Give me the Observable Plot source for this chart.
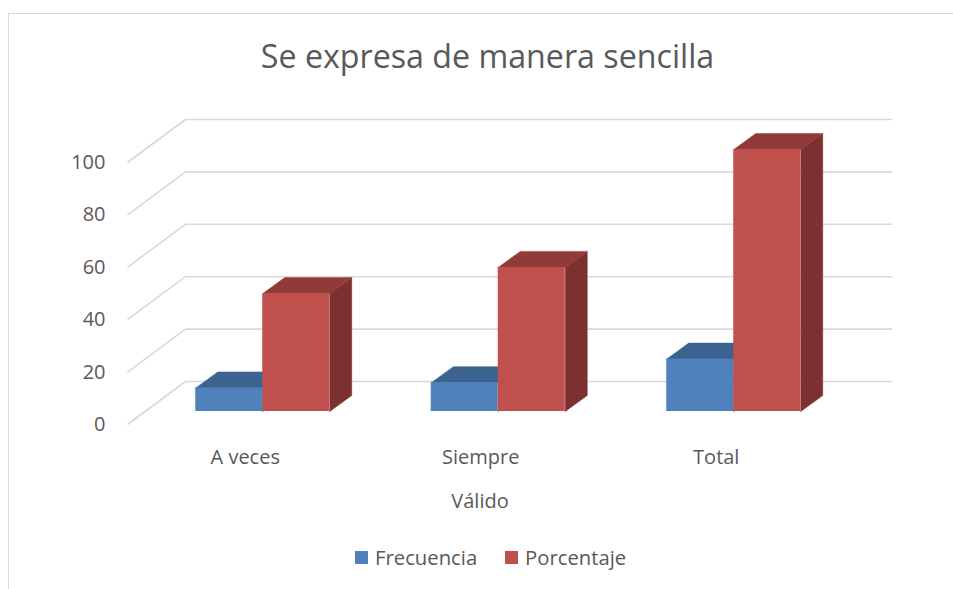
<!DOCTYPE html>
<html><head><meta charset="utf-8">
<script src="https://cdn.jsdelivr.net/npm/d3@7"></script>
<script src="https://cdn.jsdelivr.net/npm/@observablehq/plot@0.6"></script>
<style>
body{margin:0;background:#fff;font-family:"Open Sans",sans-serif;color:#595959;}
#wrap{position:relative;width:953px;height:589px;overflow:hidden;background:#fff;}
#frame{position:absolute;left:8px;top:13px;width:1000px;height:700px;border-left:1.5px solid #d9d9d9;border-top:1.5px solid #d9d9d9;}
#title{position:absolute;top:36px;left:0;width:975px;text-align:center;font-size:32.2px;font-weight:400;line-height:40px;white-space:nowrap;}
#chart{position:absolute;left:0;top:100px;}
#xlabel{position:absolute;left:380px;top:488px;width:200px;text-align:center;font-size:20px;line-height:26px;}
.lg{position:absolute;top:544px;font-size:20.3px;line-height:26px;white-space:nowrap;}
.sw{position:absolute;top:551px;width:13px;height:13px;}
</style></head>
<body><div id="wrap">
<div id="frame"></div>
<div id="title">Se expresa de manera sencilla</div>
<div id="chart"></div>
<div id="xlabel">Válido</div>
<div class="sw" style="left:355px;background:#4F81BD"></div><div class="lg" style="left:375px">Frecuencia</div>
<div class="sw" style="left:505px;background:#C0504D"></div><div class="lg" style="left:525px">Porcentaje</div>
</div>
<script>
const categories = ["A veces", "Siempre", "Total"];
const frecuencia = [9, 11, 20];
const porcentaje = [45, 55, 100];
const yTicks = [0, 20, 40, 60, 80, 100];

const W = 953, H = 420, mL = 127, mR = 119.5, mT = 62, mB = 96;
const kx = (W - mL - mR) / categories.length; // px per category
const ky = (H - mT - mB) / 100;               // px per unit
const barPlane = {dx: 17.5, dy: -13};          // bars sit in the middle of the depth
const wallX = 58 / kx, wallY = 43 / ky;         // back wall depth in data units
const depX = 22 / kx, depY = 16 / ky;          // bar depth in data units
const groupW = 134 / kx, pad = (1 - groupW) / 2;

const colors = {
  Frecuencia: {front: "#4F81BD", top: "#3C6390", side: "#375D88"},
  Porcentaje: {front: "#C0504D", top: "#923A38", side: "#7C3030"}
};

const bars = [];
categories.forEach((c, i) => {
  bars.push({id: c + "F", s: "Frecuencia", x1: i + pad, x2: i + 0.5, v: frecuencia[i]});
  bars.push({id: c + "P", s: "Porcentaje", x1: i + 0.5, x2: i + 1 - pad, v: porcentaje[i]});
});
const tops = bars.flatMap(b => [
  {id: b.id, s: b.s, x: b.x1, y: b.v},
  {id: b.id, s: b.s, x: b.x2, y: b.v},
  {id: b.id, s: b.s, x: b.x2 + depX, y: b.v + depY},
  {id: b.id, s: b.s, x: b.x1 + depX, y: b.v + depY},
  {id: b.id, s: b.s, x: b.x1, y: b.v}
]);
const sides = bars.flatMap(b => [
  {id: b.id, s: b.s, x: b.x2, y: 0},
  {id: b.id, s: b.s, x: b.x2, y: b.v},
  {id: b.id, s: b.s, x: b.x2 + depX, y: b.v + depY},
  {id: b.id, s: b.s, x: b.x2 + depX, y: depY},
  {id: b.id, s: b.s, x: b.x2, y: 0}
]);

function barMarks(s) {
  const c = colors[s];
  return [
    Plot.line(sides.filter(d => d.s === s), {x: "x", y: "y", z: "id", fill: c.side, stroke: c.side, strokeWidth: 0.5, ...barPlane}),
    Plot.line(tops.filter(d => d.s === s), {x: "x", y: "y", z: "id", fill: c.top, stroke: c.top, strokeWidth: 0.5, ...barPlane}),
    Plot.rect(bars.filter(d => d.s === s), {x1: "x1", x2: "x2", y1: 0, y2: "v", fill: c.front, ...barPlane})
  ];
}

const chart = Plot.plot({
  width: W, height: H,
  marginLeft: mL, marginRight: mR, marginTop: mT, marginBottom: mB,
  style: {fontFamily: "'Open Sans', sans-serif", fontSize: "20px", color: "#595959", background: "transparent", overflow: "visible"},
  x: {type: "linear", domain: [0, categories.length], ticks: categories.map((c, i) => i + 0.5),
      tickFormat: v => categories[Math.floor(v)], tickSize: 0, tickPadding: 25, label: null},
  y: {domain: [0, 100], ticks: yTicks, tickSize: 0, tickPadding: 22, label: null},
  marks: [
    Plot.link(yTicks, {x1: wallX, x2: categories.length + wallX, y1: d => d + wallY, y2: d => d + wallY, stroke: "#d9d9d9", strokeWidth: 1.6}),
    Plot.link(yTicks, {x1: 0, x2: wallX, y1: d => d, y2: d => d + wallY, stroke: "#d9d9d9", strokeWidth: 1.6}),
    ...barMarks("Frecuencia"),
    ...barMarks("Porcentaje")
  ]
});
document.getElementById("chart").appendChild(chart);
</script>
</body></html>
